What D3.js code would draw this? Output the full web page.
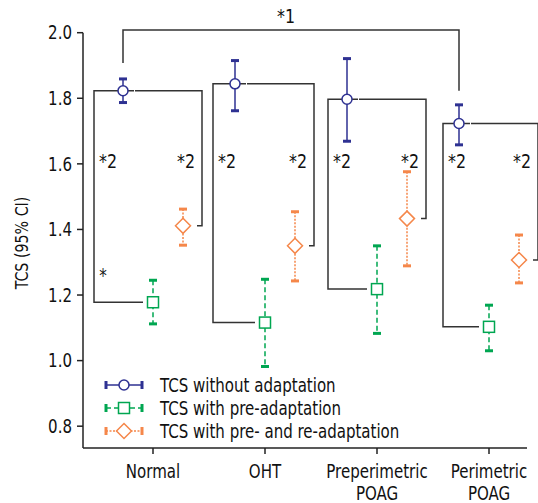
<!DOCTYPE html>
<html>
<head>
<meta charset="utf-8">
<script src="https://cdn.jsdelivr.net/npm/d3@7"></script>
<style>
  body { margin: 0; background: #fff; }
  svg text { font-family: "Liberation Sans Narrow", "DejaVu Sans Condensed", sans-serif; fill: #111; }
</style>
</head>
<body>
<svg id="chart" width="538" height="503"></svg>
<script>
const categories = ["Normal", "OHT", "Preperimetric\nPOAG", "Perimetric\nPOAG"];
const seriesNames = ["TCS without adaptation", "TCS with pre-adaptation", "TCS with pre- and re-adaptation"];

// mean and 95% CI per category
const noAdaptMean = [1.823, 1.844, 1.797, 1.723];
const noAdaptLow  = [1.787, 1.762, 1.669, 1.658];
const noAdaptHigh = [1.859, 1.915, 1.921, 1.780];

const preAdaptMean = [1.178, 1.116, 1.218, 1.103];
const preAdaptLow  = [1.112, 0.982, 1.083, 1.030];
const preAdaptHigh = [1.245, 1.248, 1.350, 1.169];

const preReMean = [1.411, 1.350, 1.433, 1.307];
const preReLow  = [1.352, 1.243, 1.289, 1.237];
const preReHigh = [1.462, 1.454, 1.576, 1.383];

const yTicks = [0.8, 1.0, 1.2, 1.4, 1.6, 1.8, 2.0];

const svg = d3.select("#chart");

const x = d3.scalePoint()
    .domain(categories)
    .range([153, 489]);

const y = d3.scaleLinear()
    .domain([0.735, 2.0])
    .range([447.5, 32.7]);

const colors = ["#2e3192", "#00a651", "#f5874a"];
const dashes = [null, "5,3", "2,1.5"];
const offsets = [-30, 0, 30];
const squeeze = 0.88; // narrow the condensed font a bit more

const series = [
    { mean: noAdaptMean, low: noAdaptLow, high: noAdaptHigh, shape: "circle" },
    { mean: preAdaptMean, low: preAdaptLow, high: preAdaptHigh, shape: "square" },
    { mean: preReMean, low: preReLow, high: preReHigh, shape: "diamond" }
];

function label(g, tx, ty, str, size, anchor, rot) {
    return g.append("text")
        .attr("transform", `translate(${tx},${ty})` + (rot ? ` rotate(${rot})` : "") + ` scale(${squeeze},1)`)
        .attr("text-anchor", anchor || "middle")
        .attr("font-size", size)
        .text(str);
}

// axes
const axisY = svg.append("g");
axisY.append("line")
    .attr("x1", 83).attr("x2", 83)
    .attr("y1", y(2.0)).attr("y2", 448)
    .attr("stroke", "#222").attr("stroke-width", 1.5);
axisY.selectAll(".tick").data(yTicks).enter().append("line")
    .attr("x1", 77).attr("x2", 83)
    .attr("y1", d => y(d)).attr("y2", d => y(d))
    .attr("stroke", "#222").attr("stroke-width", 1.5);
yTicks.forEach(t => {
    label(axisY, 72, y(t), d3.format(".1f")(t), 19, "end").attr("dy", "0.35em");
});

label(svg, 22, 243, "TCS (95% CI)", 18, "middle", -90).attr("dy", "0.35em");

const axisX = svg.append("g");
axisX.append("line")
    .attr("x1", 83).attr("x2", 527)
    .attr("y1", 448).attr("y2", 448)
    .attr("stroke", "#222").attr("stroke-width", 1.5);
axisX.selectAll(".tick").data(categories).enter().append("line")
    .attr("x1", d => x(d)).attr("x2", d => x(d))
    .attr("y1", 448).attr("y2", 454)
    .attr("stroke", "#222").attr("stroke-width", 1.5);
categories.forEach(c => {
    const t = label(axisX, x(c), 478, null, 19, "middle");
    c.split("\n").forEach((line, i) => {
        t.append("tspan")
            .attr("x", 0)
            .attr("dy", i === 0 ? 0 : 22)
            .text(line);
    });
});

// significance brackets
const br = svg.append("g")
    .attr("fill", "none")
    .attr("stroke", "#333")
    .attr("stroke-width", 1.5);

const leftOff = [-59, -52, -49, -46];
const rightOff = 49;

categories.forEach((c, i) => {
    const cx = x(c);
    const yc = y(noAdaptMean[i]);
    const xl = cx + leftOff[i];
    br.append("path")
        .attr("d", `M${cx - 19},${yc} H${xl} V${y(preAdaptMean[i])} H${cx - 10}`);
    br.append("path")
        .attr("d", `M${cx - 18},${yc} H${cx + rightOff} V${y(preReMean[i])} H${cx + rightOff - 5}`);

    label(svg, xl + 14, 168, "*2", 20);
    label(svg, cx + rightOff - 16, 168, "*2", 20);
});

// top bracket, Normal vs Perimetric POAG
const xa = x(categories[0]) + offsets[0];
const xb = x(categories[3]) + offsets[0];
br.append("path")
    .attr("d", `M${xa},${y(noAdaptHigh[0]) - 16} V30 H${xb} V${y(noAdaptHigh[3]) - 14}`);
label(svg, 286, 23, "*1", 20);
label(svg, x(categories[0]) + leftOff[0] + 9, 282, "*", 19);

// markers
function drawMarker(g, shape, cx, cy, color) {
    if (shape === "circle") {
        g.append("circle").attr("cx", cx).attr("cy", cy).attr("r", 5)
            .attr("fill", "#fff").attr("stroke", color).attr("stroke-width", 1.5);
    } else if (shape === "square") {
        g.append("rect").attr("x", cx - 5.5).attr("y", cy - 5.5)
            .attr("width", 11).attr("height", 11)
            .attr("fill", "#fff").attr("stroke", color).attr("stroke-width", 1.5);
    } else {
        g.append("path")
            .attr("d", `M${cx},${cy - 7.5} L${cx + 7.5},${cy} L${cx},${cy + 7.5} L${cx - 7.5},${cy} Z`)
            .attr("fill", "#fff").attr("stroke", color).attr("stroke-width", 1.5);
    }
}

series.forEach((s, k) => {
    const g = svg.append("g");
    categories.forEach((c, i) => {
        const cx = x(c) + offsets[k];
        g.append("line")
            .attr("x1", cx).attr("x2", cx)
            .attr("y1", y(s.high[i])).attr("y2", y(s.low[i]))
            .attr("stroke", colors[k]).attr("stroke-width", 1.5)
            .attr("stroke-dasharray", dashes[k]);
        [s.high[i], s.low[i]].forEach(v => {
            g.append("line")
                .attr("x1", cx - 4).attr("x2", cx + 4)
                .attr("y1", y(v)).attr("y2", y(v))
                .attr("stroke", colors[k]).attr("stroke-width", 3);
        });
        drawMarker(g, s.shape, cx, y(s.mean[i]), colors[k]);
    });
});

// legend
const legend = svg.append("g");
const legendY = [385, 408, 431];
seriesNames.forEach((name, k) => {
    const ly = legendY[k];
    legend.append("line")
        .attr("x1", 106).attr("x2", 142)
        .attr("y1", ly).attr("y2", ly)
        .attr("stroke", colors[k]).attr("stroke-width", 1.5)
        .attr("stroke-dasharray", dashes[k]);
    [106, 142].forEach(ex => {
        legend.append("line")
            .attr("x1", ex).attr("x2", ex)
            .attr("y1", ly - 4).attr("y2", ly + 4)
            .attr("stroke", colors[k]).attr("stroke-width", 3);
    });
    drawMarker(legend, series[k].shape, 124, ly, colors[k]);
    label(legend, 160, ly, name, 19, "start").attr("dy", "0.35em");
});
</script>
</body>
</html>
